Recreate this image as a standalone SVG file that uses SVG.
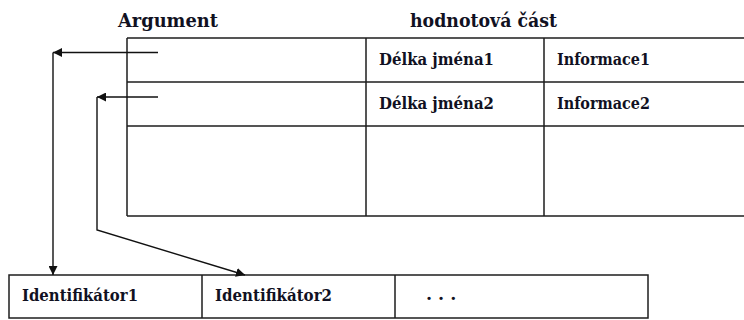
<svg xmlns="http://www.w3.org/2000/svg" width="744" height="320" viewBox="0 0 744 320">
<style>
.ln{stroke:#1e1e1e;stroke-width:1.5;fill:none}
.box{stroke:#1e1e1e;stroke-width:1.5;fill:#fff}
text{font-family:'DejaVu Serif',serif;font-weight:bold;fill:#111122}
.hd{font-size:19px}
.tx{font-size:17.5px}
.con{stroke:#111;stroke-width:1.4;fill:none}
</style>
<defs>
<marker id="ah" viewBox="0 0 10 10" refX="10" refY="5" markerWidth="9" markerHeight="9" markerUnits="userSpaceOnUse" orient="auto">
<path d="M0,0 L10,5 L0,10 Z" fill="#111"/>
</marker>
</defs>
<rect width="744" height="320" fill="#fff"/>
<g id="headers">
<text class="hd" x="118" y="27" textLength="100" lengthAdjust="spacingAndGlyphs">Argument</text>
<text class="hd" x="410" y="27" textLength="147" lengthAdjust="spacingAndGlyphs">hodnotová část</text>
</g>
<g id="table">
<path class="ln" d="M127,38 H746 M127,82 H746 M127,126 H746 M127,216 H746 M127,38 V216 M366,38 V216 M544,38 V216"/>
<text class="tx" x="379" y="65" textLength="115" lengthAdjust="spacingAndGlyphs">Délka jména1</text>
<text class="tx" x="557" y="65" textLength="93" lengthAdjust="spacingAndGlyphs">Informace1</text>
<text class="tx" x="379" y="109" textLength="115" lengthAdjust="spacingAndGlyphs">Délka jména2</text>
<text class="tx" x="557" y="109" textLength="93" lengthAdjust="spacingAndGlyphs">Informace2</text>
</g>
<g id="list">
<rect class="box" x="9" y="275" width="639" height="43"/>
<path class="ln" d="M202,275 V318 M395,275 V318"/>
<text class="tx" x="22" y="301" textLength="116" lengthAdjust="spacingAndGlyphs">Identifikátor1</text>
<text class="tx" x="215" y="301" textLength="117" lengthAdjust="spacingAndGlyphs">Identifikátor2</text>
<text class="tx" x="426" y="300" letter-spacing="6">...</text>
</g>
<g id="connectors">
<path class="con" d="M158,52.5 H53" marker-end="url(#ah)"/>
<path class="con" d="M53,52.5 V275" marker-end="url(#ah)"/>
<path class="con" d="M158,97 H97" marker-end="url(#ah)"/>
<path class="con" d="M97,97 V230 L245,275" marker-end="url(#ah)"/>
</g>
</svg>
